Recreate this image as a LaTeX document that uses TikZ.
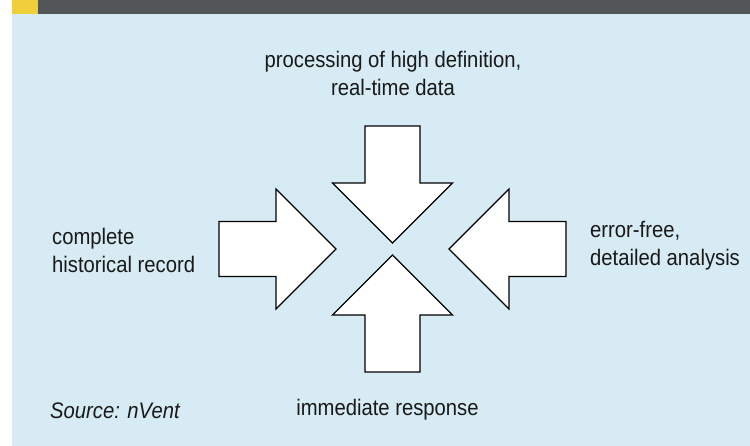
\documentclass[tikz,border=0pt]{standalone}
\usepackage{fontspec}
\setmainfont{Liberation Sans}[FakeStretch=0.9]
\usetikzlibrary{positioning}

\definecolor{panelblue}{HTML}{D7EBF4}
\definecolor{bardark}{HTML}{525657}
\definecolor{baryellow}{HTML}{EFD03A}

\tikzset{
  bigarrow/.style={draw=black, fill=white, line width=1.2pt, line join=miter},
  caption/.style={font=\fontsize{22.5}{28}\selectfont, text=black!90, inner sep=0pt}
}

\begin{document}
\begin{tikzpicture}[x=1pt, y=1pt]
        \useasboundingbox (0,0) rectangle (750,446);
        \fill[panelblue] (12,0) rectangle (750,432); % panel
        \fill[bardark] (12,432) rectangle (750,446); % title bar
        \fill[baryellow] (12,432) rectangle (38,446); % title bar tab

        % Four arrows pointing to the middle
        \draw[bigarrow, shift={(392.5,203)}, rotate=-90] (0,0) -- (-60,60) -- (-60,27.5) -- (-117,27.5) -- (-117,-27.5) -- (-60,-27.5) -- (-60,-60) -- cycle; % from top
        \draw[bigarrow, shift={(392.5,191)}, rotate=90] (0,0) -- (-60,60) -- (-60,27.5) -- (-117,27.5) -- (-117,-27.5) -- (-60,-27.5) -- (-60,-60) -- cycle; % from bottom
        \draw[bigarrow, shift={(336,197)}] (0,0) -- (-60,60) -- (-60,27.5) -- (-117,27.5) -- (-117,-27.5) -- (-60,-27.5) -- (-60,-60) -- cycle; % from left
        \draw[bigarrow, shift={(449,197)}, rotate=180] (0,0) -- (-60,60) -- (-60,27.5) -- (-117,27.5) -- (-117,-27.5) -- (-60,-27.5) -- (-60,-60) -- cycle; % from right

        % Labels
        \node[caption, align=center] (realtime) at (393,373) {processing of high definition,\\real-time data};
        \node[caption, align=left, anchor=west] (history) at (52,196) {complete\\historical record};
        \node[caption, align=left, anchor=west] (analysis) at (590,200) {error-free,\\detailed analysis};
        \node[caption, anchor=base] (response) at (387.5,30) {immediate response};
        \node[caption, anchor=base west] (source) at (50,27) {\itshape Source: nVent};
    \end{tikzpicture}
\end{document}
